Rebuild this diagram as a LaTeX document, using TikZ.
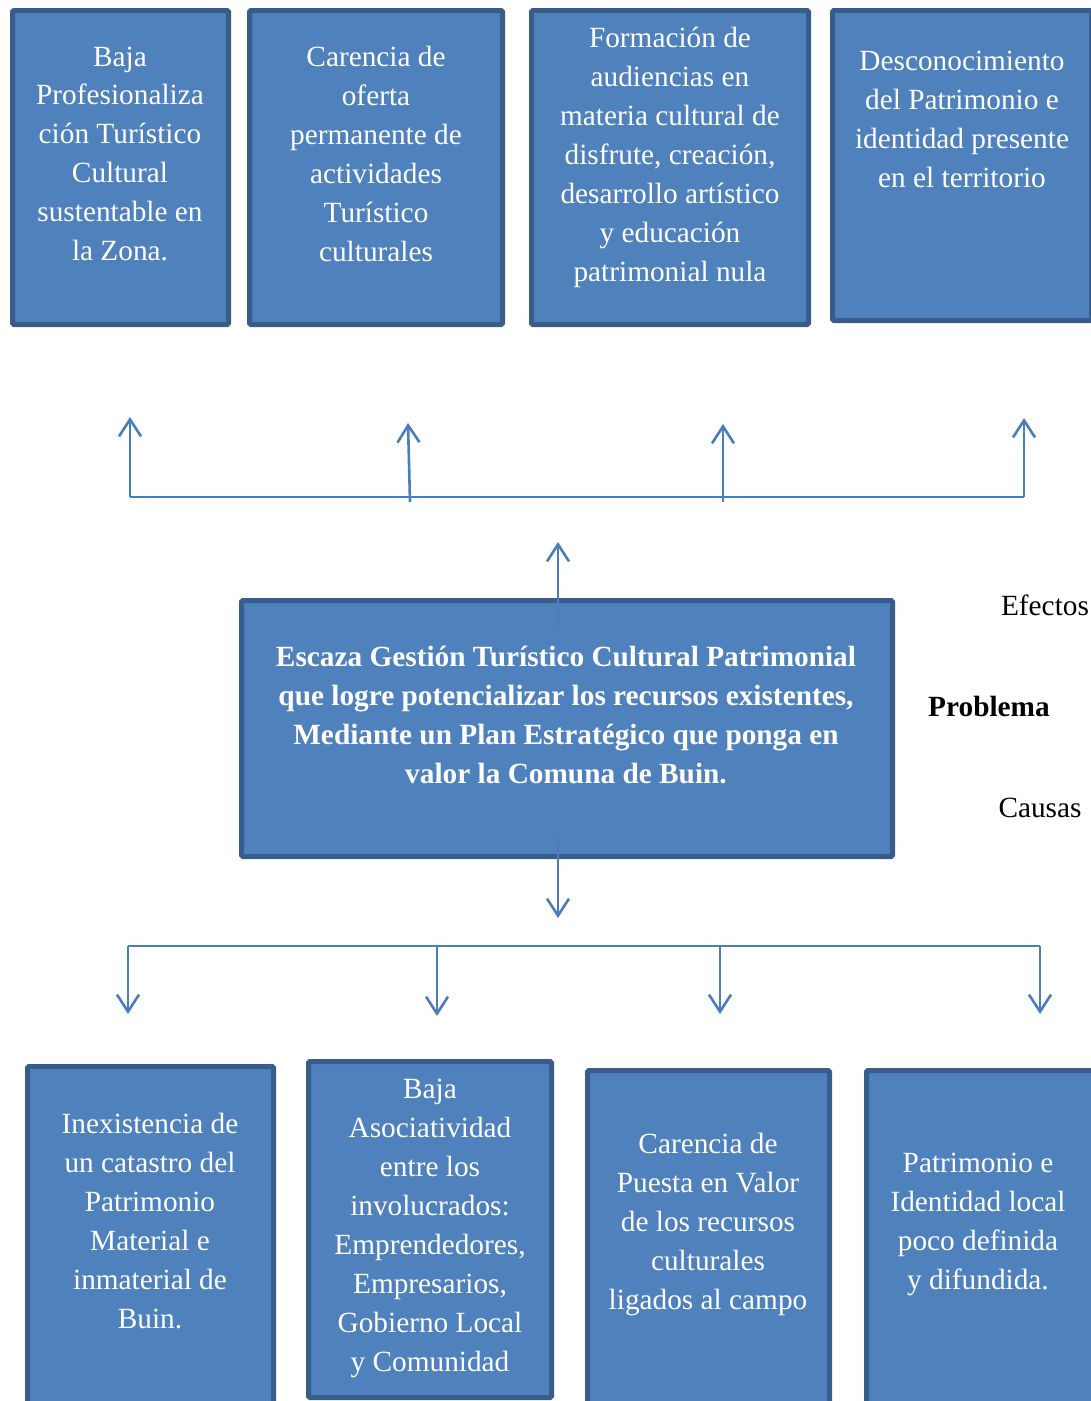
\documentclass[tikz,border=0pt]{standalone}
\usepackage{fontspec}
\setmainfont{Liberation Serif}
\usetikzlibrary{arrows.meta}
\definecolor{boxfill}{HTML}{4F81BD}
\definecolor{boxline}{HTML}{385D8A}
\definecolor{linkcol}{HTML}{4A7EBB}
\tikzset{
  card/.style={draw=boxline, fill=boxfill, line width=5pt, rounded corners=1.5pt,
               inner sep=0pt, anchor=center},
  cardtext/.style={text=white, align=center, inner sep=0pt,
                   font=\fontsize{29.3}{39}\selectfont},
  sidetext/.style={text=black, inner sep=0pt, font=\fontsize{29.3}{39}\selectfont},
  link/.style={draw=linkcol, line width=2.6pt},
  arrowlink/.style={link, -{Straight Barb[length=17pt,width=22pt]}},
}
\newcommand{\card}[5]{% name, left, top, right, bottom (outer edges)
  \node[card, minimum width={#4-#2-5}, minimum height={#5-#3-5}]
    (#1) at ({(#2+#4)/2},{(#3+#5)/2}) {};}
\begin{document}
\begin{tikzpicture}[x=1pt,y=-1pt]
\useasboundingbox (0,0) rectangle (1091,1401);
\clip (0,0) rectangle (1091,1401);

% effects (top row)
\card{e1}{10}{8}{231}{327}
\card{e2}{247}{8}{505}{327}
\card{e3}{529}{8}{811}{327}
\card{e4}{830}{8}{1094}{323}
\node[cardtext] (e1t) at (120,154) {Baja\\Profesionaliza\\ción Turístico\\Cultural\\sustentable en\\la Zona.};
\node[cardtext] (e2t) at (376,154) {Carencia de\\oferta\\permanente de\\actividades\\Turístico\\culturales};
\node[cardtext] (e3t) at (670,157) {Formación de\\audiencias en\\materia cultural de\\disfrute, creación,\\desarrollo artístico\\y educación\\patrimonial nula};
\node[cardtext] (e4t) at (962,119) {Desconocimiento\\del Patrimonio e\\identidad presente\\en el territorio};

% central problem
\card{prob}{239}{598}{895}{859}
\node[cardtext, font=\fontsize{29.3}{39}\selectfont\bfseries] (probt) at (566,715)
  {Escaza Gestión Turístico Cultural Patrimonial\\que logre potencializar los recursos existentes,\\Mediante un Plan Estratégico que ponga en\\valor la Comuna de Buin.};

% causes (bottom row)
\card{c1}{25}{1064}{276}{1420}
\card{c2}{306}{1059}{554}{1400}
\card{c3}{585}{1068}{832}{1420}
\card{c4}{864}{1068}{1096}{1420}
\node[cardtext] (c1t) at (150,1221) {Inexistencia de\\un catastro del\\Patrimonio\\Material e\\inmaterial de\\Buin.};
\node[cardtext] (c2t) at (430,1228) {Baja\\Asociatividad\\entre los\\involucrados:\\Emprendedores,\\Empresarios,\\Gobierno Local\\y Comunidad};
\node[cardtext] (c3t) at (708,1224) {Carencia de\\Puesta en Valor\\de los recursos\\culturales\\ligados al campo};
\node[cardtext] (c4t) at (978,1224) {Patrimonio e\\Identidad local\\poco definida\\y difundida.};

% side labels
\node[sidetext] (lef) at (1045,605) {Efectos};
\node[sidetext, font=\fontsize{29.3}{39}\selectfont\bfseries] (lprob) at (989,706) {Problema};
\node[sidetext] (lcau) at (1040,808) {Causas};

% connector anchors
\coordinate (pUp) at (558,630);
\coordinate (pUpEnd) at (558,542);
\coordinate (pDown) at (558,835);
\coordinate (pDownEnd) at (558,918);
\coordinate (tbL) at (130,497);
\coordinate (tbR) at (1024,497);
\coordinate (tb2) at (410,502);
\coordinate (tb3) at (723,502);
\coordinate (ua1) at (130,417);
\coordinate (ua2) at (408,423);
\coordinate (ua3) at (723,424);
\coordinate (ua4) at (1024,418);
\coordinate (bbL) at (128,946);
\coordinate (bbR) at (1040,946);
\coordinate (bb2) at (437,946);
\coordinate (bb3) at (720,946);
\coordinate (da1) at (128,1014);
\coordinate (da2) at (437,1016);
\coordinate (da3) at (720,1014);
\coordinate (da4) at (1040,1014);

% effect links
\draw[link] (tbL) -- (tbR);
\draw[arrowlink] (tbL) -- (ua1);
\draw[arrowlink] (tb2) -- (ua2);
\draw[arrowlink] (tb3) -- (ua3);
\draw[arrowlink] (tbR) -- (ua4);
\draw[arrowlink] (pUp) -- (pUpEnd);

% cause links
\draw[arrowlink] (pDown) -- (pDownEnd);
\draw[link] (bbL) -- (bbR);
\draw[arrowlink] (bbL) -- (da1);
\draw[arrowlink] (bb2) -- (da2);
\draw[arrowlink] (bb3) -- (da3);
\draw[arrowlink] (bbR) -- (da4);
\end{tikzpicture}
\end{document}
